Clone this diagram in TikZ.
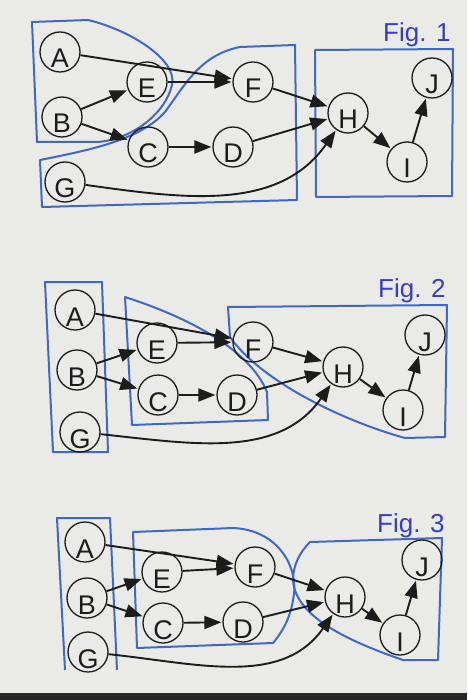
\documentclass[tikz,border=0pt]{standalone}
\usepackage{fontspec}
\setmainfont{Liberation Sans}
\usetikzlibrary{arrows.meta}
\definecolor{bg}{RGB}{234,235,231}
\definecolor{darkstrip}{RGB}{38,38,38}
\definecolor{blu}{RGB}{66,104,198}
\definecolor{figblue}{RGB}{56,60,198}
\definecolor{ink}{RGB}{28,28,28}
\begin{document}
\begin{tikzpicture}[x=1pt,y=-1pt,
  vert/.style={circle,draw=ink,line width=1.3pt,minimum size=40pt,inner sep=0pt,
    font=\fontsize{27}{27}\selectfont,text height=32pt,text depth=0pt,text=ink},
  edge/.style={draw=ink,line width=1.9pt,-{Triangle[length=17pt,width=13pt]},shorten >=1pt},
  region/.style={draw=blu,line width=2pt,line join=round},
  figlab/.style={text=figblue,font=\fontsize{26}{26}\selectfont,anchor=base west,inner sep=0pt}]
\useasboundingbox (0,0) rectangle (467,700);
\fill[bg] (0,0) rectangle (467,700);
\fill[darkstrip] (0,693) rectangle (467,700);

% ---------------- Fig. 1 ----------------
\draw[region] (32,22) -- (88,20) .. controls (130,30) and (178,60) .. (172,85)
  .. controls (165,115) and (130,140) .. (97,142) -- (37,142) -- cycle;
\draw[region] (295,45) -- (240,47) .. controls (200,55) and (185,85) .. (165,112)
  .. controls (140,140) and (90,150) .. (40,160) -- (42,207) -- (297,200) -- cycle;
\draw[region] (315,50) -- (453,49) -- (452,196) -- (316,197) -- cycle;
\node[figlab] (fig1) at (383,42) {Fig. 1};

\node[vert] (A1) at (60,52) {A};
\node[vert] (E1) at (147,82) {E};
\node[vert] (B1) at (62,117) {B};
\node[vert] (F1) at (253,82) {F};
\node[vert] (C1) at (148,147) {C};
\node[vert] (D1) at (233,147) {D};
\node[vert] (G1) at (65,182) {G};
\node[vert] (H1) at (348,113) {H};
\node[vert] (I1) at (407,162) {I};
\node[vert] (J1) at (432,78) {J};
\draw[edge] (A1) -- (F1);
\draw[edge] (B1) -- (E1);
\draw[edge] (E1) -- (F1);
\draw[edge] (B1) -- (C1);
\draw[edge] (C1) -- (D1);
\draw[edge] (F1) -- (H1);
\draw[edge] (D1) -- (H1);
\draw[edge] (G1) to[out=-8,in=-125] (H1);
\draw[edge] (H1) -- (I1);
\draw[edge] (I1) -- (J1);

% ---------------- Fig. 2 ----------------
\draw[region] (45,282) -- (102,282) -- (108,452) -- (53,452) -- cycle;
\draw[region] (125,297) .. controls (190,318) and (250,350) .. (267,392)
  -- (268,420) -- (132,425) -- cycle;
\draw[region] (228,307) -- (447,305) -- (445,437) -- (405,438)
  .. controls (340,420) and (260,380) .. (230,337) -- cycle;
\node[figlab] (fig2) at (378,297) {Fig. 2};

\node[vert] (A2) at (75,310) {A};
\node[vert] (B2) at (77,370) {B};
\node[vert] (G2) at (80,432) {G};
\node[vert] (E2) at (157,343) {E};
\node[vert] (C2) at (158,395) {C};
\node[vert] (D2) at (237,395) {D};
\node[vert] (F2) at (253,342) {F};
\node[vert] (H2) at (343,367) {H};
\node[vert] (I2) at (403,410) {I};
\node[vert] (J2) at (425,335) {J};
\draw[edge] (A2) -- (F2);
\draw[edge] (B2) -- (E2);
\draw[edge] (E2) -- (F2);
\draw[edge] (B2) -- (C2);
\draw[edge] (C2) -- (D2);
\draw[edge] (F2) -- (H2);
\draw[edge] (D2) -- (H2);
\draw[edge] (G2) to[out=-6,in=-125] (H2);
\draw[edge] (H2) -- (I2);
\draw[edge] (I2) -- (J2);

% ---------------- Fig. 3 ----------------
\draw[region] (65,670) -- (57,518) -- (110,518) -- (117,670);
\draw[region] (133,532) -- (233,528) .. controls (280,530) and (300,570) .. (293,600)
  .. controls (290,620) and (280,635) .. (273,643) -- (137,648) -- cycle;
\draw[region] (310,542) -- (442,538) -- (438,660) -- (403,660)
  .. controls (360,645) and (295,620) .. (293,580)
  .. controls (293,565) and (300,552) .. (310,542) -- cycle;
\node[figlab] (fig3) at (377,532) {Fig. 3};

\node[vert] (A3) at (85,542) {A};
\node[vert] (B3) at (87,598) {B};
\node[vert] (G3) at (88,652) {G};
\node[vert] (E3) at (162,572) {E};
\node[vert] (C3) at (163,623) {C};
\node[vert] (D3) at (243,622) {D};
\node[vert] (F3) at (255,567) {F};
\node[vert] (H3) at (345,597) {H};
\node[vert] (I3) at (400,635) {I};
\node[vert] (J3) at (422,560) {J};
\draw[edge] (A3) -- (F3);
\draw[edge] (B3) -- (E3);
\draw[edge] (E3) -- (F3);
\draw[edge] (B3) -- (C3);
\draw[edge] (C3) -- (D3);
\draw[edge] (F3) -- (H3);
\draw[edge] (D3) -- (H3);
\draw[edge] (G3) to[out=-6,in=-125] (H3);
\draw[edge] (H3) -- (I3);
\draw[edge] (I3) -- (J3);
\end{tikzpicture}
\end{document}
